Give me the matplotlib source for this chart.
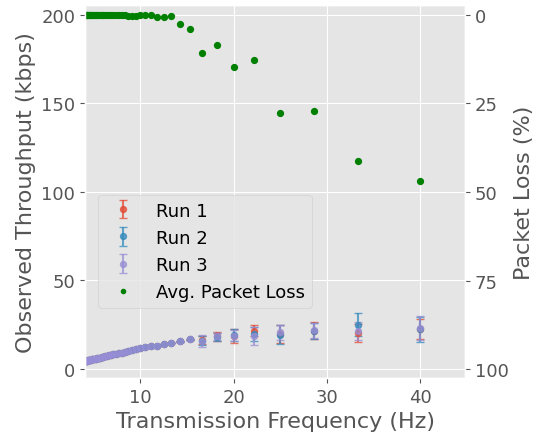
import matplotlib
matplotlib.use('Agg')
import matplotlib.pyplot as plt

plt.style.use('ggplot')

# transmission frequencies (Hz), one per send period 0.25 s .. 0.025 s
freq = [4.0, 4.08, 4.17, 4.26, 4.35, 4.44, 4.55, 4.65, 4.76, 4.88,
        5.0, 5.13, 5.26, 5.41, 5.56, 5.71, 5.88, 6.06, 6.25, 6.45,
        6.67, 6.9, 7.14, 7.41, 7.69, 8.0, 8.33, 8.7, 9.09, 9.52,
        10.0, 10.53, 11.11, 11.76, 12.5, 13.33, 14.29, 15.38, 16.67, 18.18,
        20.0, 22.22, 25.0, 28.57, 33.33, 40.0]

# observed throughput (kbps) per run
low = [4.3, 4.4, 4.5, 4.6, 4.7, 4.8, 4.9, 5.1, 5.2, 5.4,
       5.5, 5.7, 5.8, 6.0, 6.2, 6.4, 6.6, 6.8, 7.1, 7.3,
       7.6, 7.9, 8.2, 8.5, 8.8, 9.2, 9.6, 10.1, 10.6, 11.1,
       11.7, 12.2, 12.7, 13.1, 13.8, 14.6, 15.6, 16.7]
run1 = low + [16.3, 18.4, 18.5, 21.6, 19.8, 21.6, 20.2, 22.6]
run2 = low + [16.0, 18.2, 19.2, 19.8, 19.4, 21.4, 25.0, 22.3]
run3 = low + [15.8, 18.3, 18.7, 18.6, 20.7, 21.7, 21.3, 23.0]

# standard deviation of throughput per run
low_err = [0.0] * 36 + [0.2, 0.3]
run1_err = low_err + [2.0, 2.4, 3.8, 3.0, 5.0, 5.0, 5.0, 5.8]
run2_err = low_err + [2.5, 2.2, 3.3, 3.8, 5.6, 4.5, 6.3, 7.2]
run3_err = low_err + [3.3, 2.0, 3.0, 5.0, 4.2, 4.2, 5.0, 6.6]

# average packet loss (%)
loss = [0.0] * 27 + [0.3, 0.3, 0.3,
        0.0, 0.0, 0.0, 0.6, 0.6, 0.3, 2.7, 3.9, 10.8, 8.5,
        14.8, 12.7, 27.7, 27.1, 41.2, 47.0]

fig = plt.figure(figsize=(5.42, 4.39), dpi=100)
ax = fig.add_axes([0.157, 0.137, 0.701, 0.849])
ax2 = ax.twinx()

colors = ['#E24A33', '#348ABD', '#988ED5']
runs = [(run1, run1_err, 'Run 1'), (run2, run2_err, 'Run 2'), (run3, run3_err, 'Run 3')]
handles = []
for (vals, errs, name), c in zip(runs, colors):
    h = ax.errorbar(freq, vals, yerr=errs, fmt='o', color=c, ms=4.3,
                    capsize=3, elinewidth=1.5, alpha=0.75, label=name)
    handles.append(h)

h_loss, = ax2.plot(freq, loss, 'o', color='green', ms=4.2,
                   label='Avg. Packet Loss')
handles.append(h_loss)

ax.set_xlim(4.1, 44.8)
ax.set_ylim(-5.1, 205.6)
ax2.set_ylim(102.4, -2.7)
ax.set_xticks([10, 20, 30, 40])
ax.set_yticks([0, 50, 100, 150, 200])
ax2.set_yticks([0, 25, 50, 75, 100])
ax2.grid(False)

ax.tick_params(labelsize=13)
ax2.tick_params(labelsize=13)
ax.set_xlabel('Transmission Frequency (Hz)', fontsize=16, color='#555555')
ax.set_ylabel('Observed Throughput (kbps)', fontsize=16, color='#555555')
ax2.set_ylabel('Packet Loss (%)', fontsize=16, color='#555555')

leg = ax2.legend(handles=handles, loc='lower left', bbox_to_anchor=(0.01, 0.163),
                 fontsize=13, frameon=True)
leg.get_frame().set_edgecolor('#cccccc')
# the loss dot is drawn smaller in the key
leg.legend_handles[3].set_markersize(3)

fig.savefig('out.png', dpi=100)
